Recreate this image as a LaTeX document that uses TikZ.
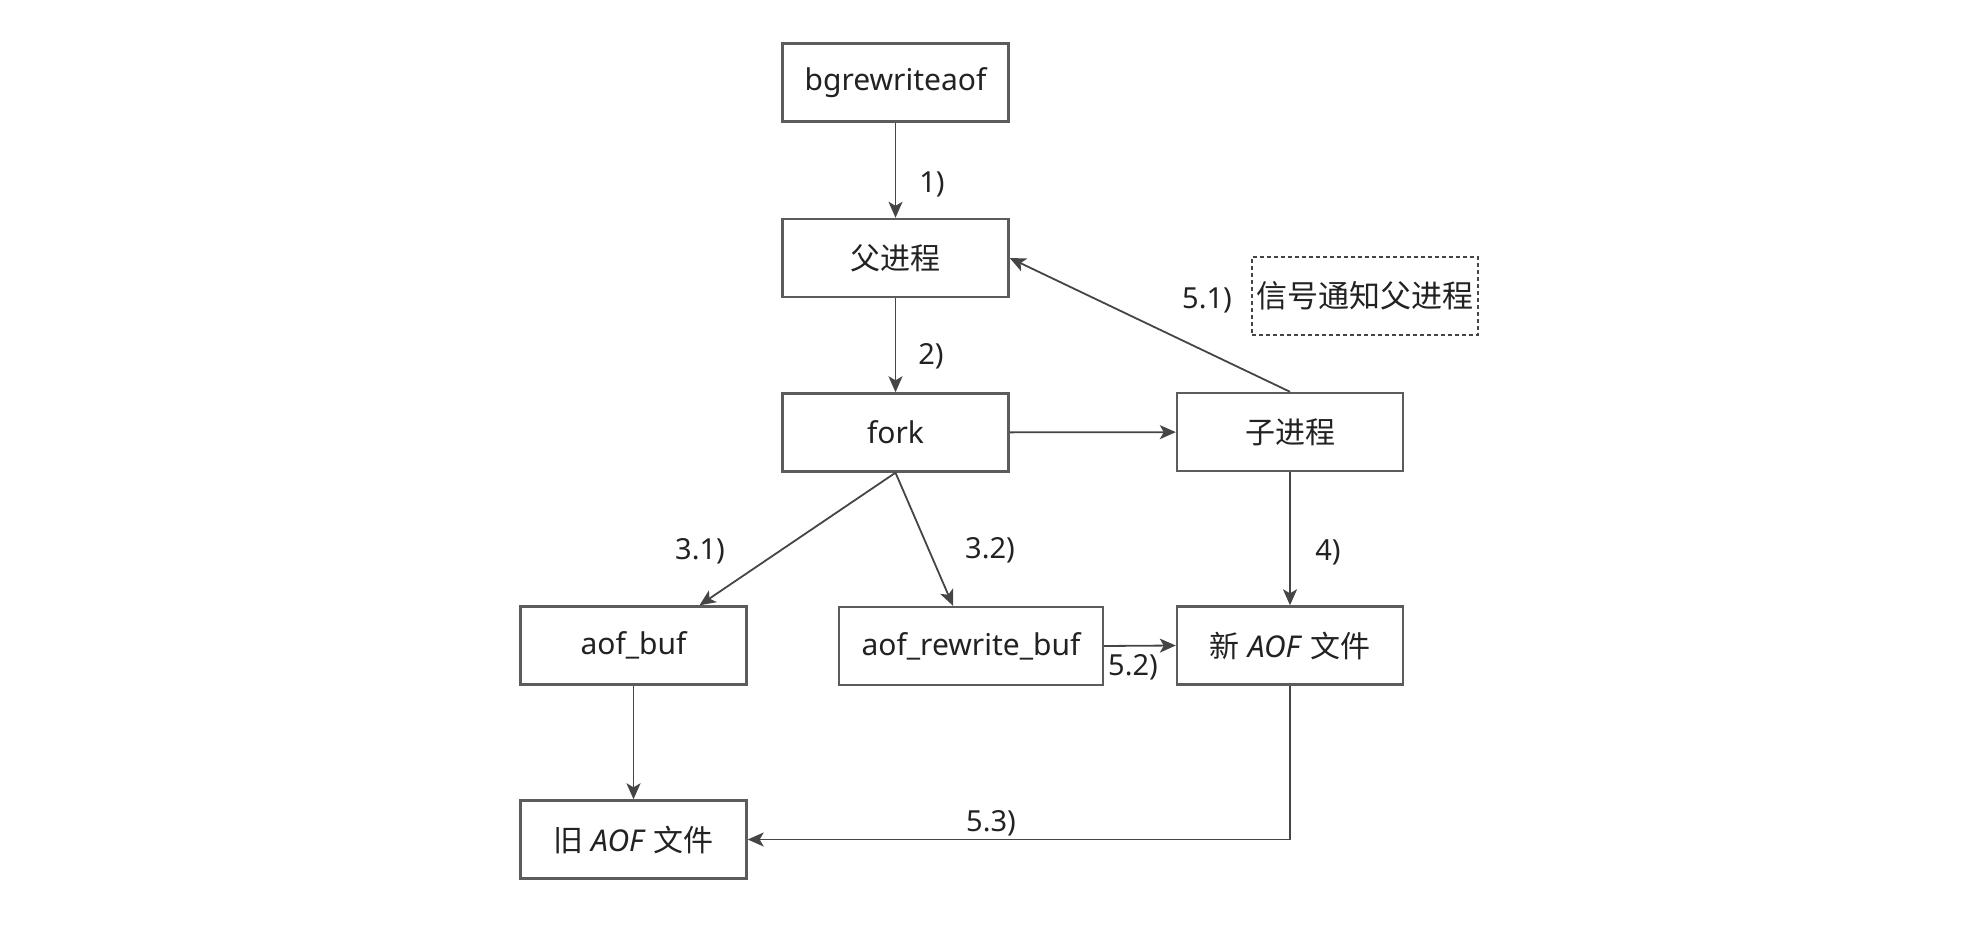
\documentclass[tikz,border=0pt]{standalone}
\usepackage{fontspec}
\setmainfont{Noto Sans}
\newfontfamily\cjk{Noto Sans CJK SC}
\usetikzlibrary{arrows.meta}
\definecolor{boxgray}{HTML}{5C5C5C}
\definecolor{linegray}{HTML}{454545}
\definecolor{txt}{HTML}{222222}
\begin{document}
\begin{tikzpicture}[x=0.5pt,y=-0.5pt,
  box/.style={draw=boxgray, line width=1.2pt, fill=white, minimum width=113pt, minimum height=39pt,
              inner sep=0pt, font=\fontsize{15}{18}\selectfont, text=txt},
  dashbox/.style={draw=linegray, line width=0.8pt, dash pattern=on 2pt off 1.5pt, minimum width=113pt,
              minimum height=39pt, inner sep=0pt, font=\fontsize{15.5}{18}\selectfont, text=txt},
  lbl/.style={font=\fontsize{14.5}{17}\selectfont, text=txt, inner sep=0pt},
  conn/.style={draw=linegray, line width=0.9pt, -{Stealth[length=8pt,width=7pt,inset=2pt]}}]
\useasboundingbox (0,0) rectangle (1977,935);
% nodes
\node[box] (bg) at (895.5,82.5) {bgrewriteaof};
\node[box] (parent) at (895.5,258) {\cjk 父进程};
\node[box] (fork) at (895.5,432.5) {fork};
\node[box] (child) at (1290,432) {\cjk 子进程};
\node[box] (aofbuf) at (633.5,645.5) {aof\_buf};
\node[box, minimum width=132pt] (rwbuf) at (971,646) {aof\_rewrite\_buf};
\node[box] (newaof) at (1290,645.5) {{\cjk 新} \textit{AOF} {\cjk 文件}};
\node[box] (oldaof) at (633.5,839.5) {{\cjk 旧} \textit{AOF} {\cjk 文件}};
\node[dashbox] (signal) at (1365,296) {\cjk 信号通知父进程};
% connectors
\draw[conn] (bg) -- (parent);
\draw[conn] (parent) -- (fork);
\draw[conn] (fork) -- (child);
\draw[conn] (child.north) -- (parent.east);
\draw[conn] (child) -- (newaof);
\draw[conn] (fork.south) -- ([xshift=33pt]aofbuf.north);
\draw[conn] (fork.south) -- ([xshift=-9pt]rwbuf.north);
\draw[conn] (rwbuf.east) -- (newaof.west);
\draw[conn] (aofbuf) -- (oldaof);
\draw[conn] (newaof.south) |- (oldaof.east);
% labels
\node[lbl] (l1) at (932,184) {1)};
\node[lbl] (l2) at (931,356) {2)};
\node[lbl] (l31) at (700,551) {3.1)};
\node[lbl] (l32) at (990,550) {3.2)};
\node[lbl] (l4) at (1328,552) {4)};
\node[lbl] (l51) at (1207,300) {5.1)};
\node[lbl] (l52) at (1133,667) {5.2)};
\node[lbl] (l53) at (991,823) {5.3)};
\end{tikzpicture}
\end{document}
